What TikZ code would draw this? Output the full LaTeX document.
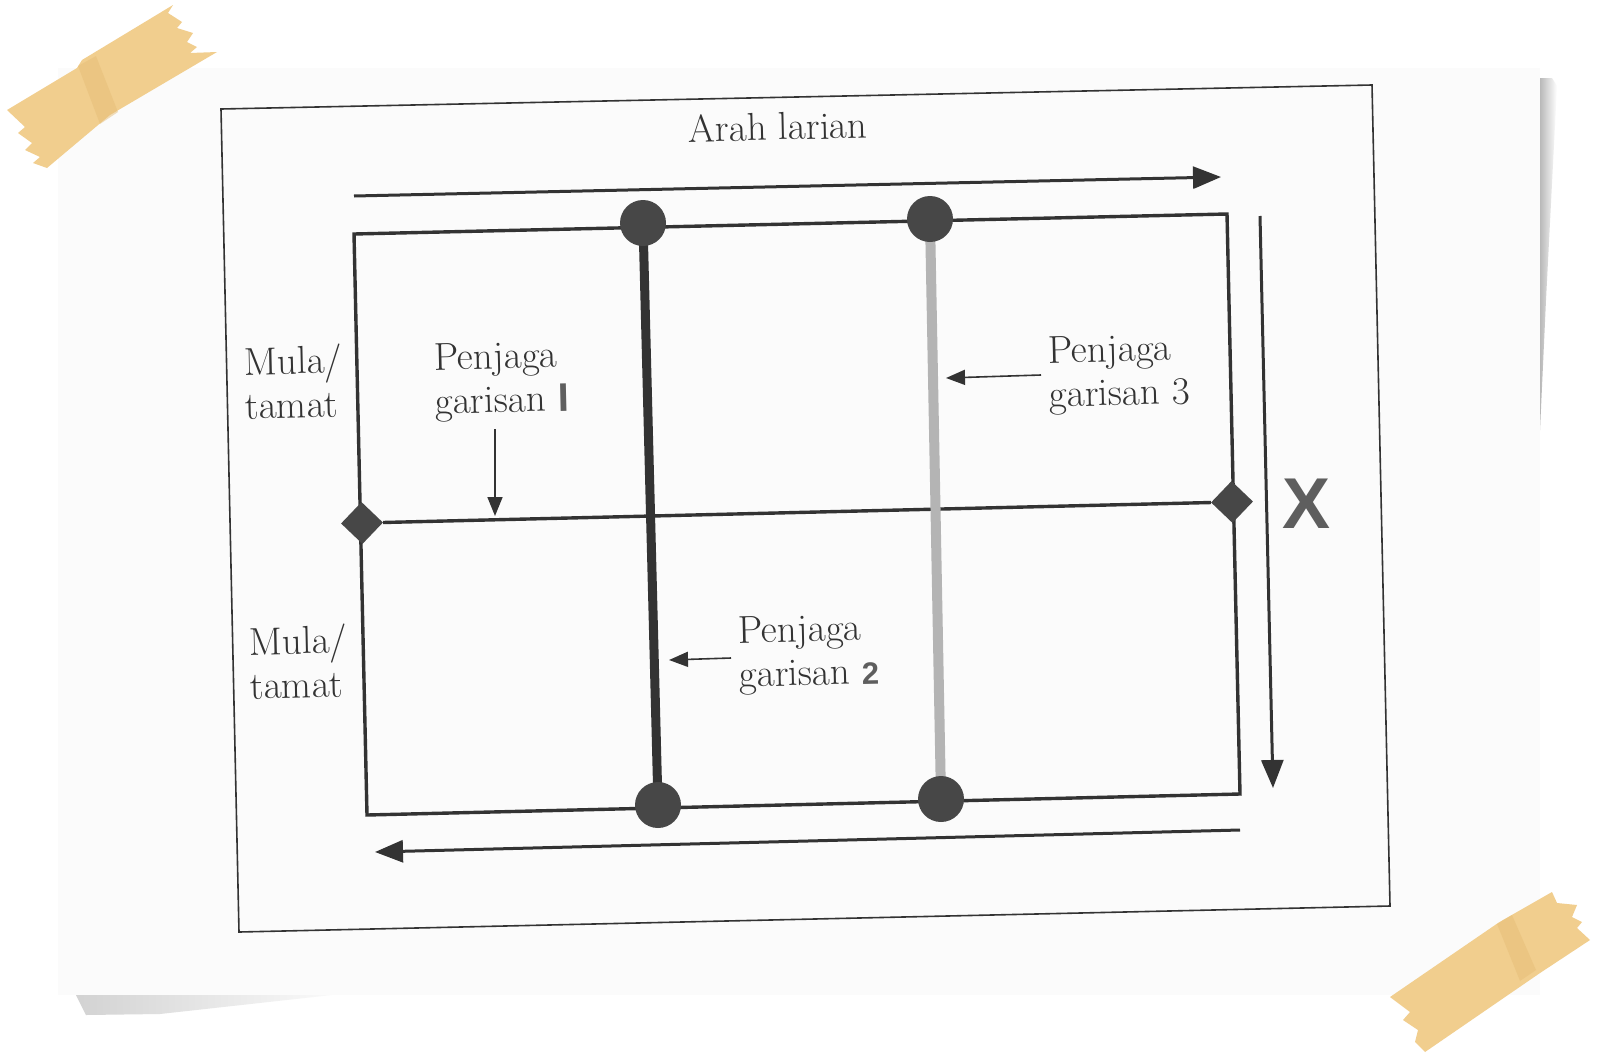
\documentclass[tikz,border=0pt]{standalone}
\usepackage{fontspec}
\newfontfamily\numfont{Liberation Sans}
\usetikzlibrary{arrows.meta,shapes.geometric}

\definecolor{ink}{HTML}{333333}
\definecolor{dot}{HTML}{474747}
\definecolor{pale}{HTML}{B4B4B4}
\definecolor{tape}{HTML}{F1CE8E}
\definecolor{tapedark}{HTML}{E6BE78}
\definecolor{numgray}{HTML}{5E5E5E}

\tikzset{
  court/.style={draw=ink, line width=3.4pt, line join=miter},
  frame/.style={draw=ink, line width=1.6pt},
  guard/.style={circle, fill=dot, minimum size=46pt, inner sep=0pt},
  endmark/.style={diamond, fill=dot, minimum size=42pt, inner sep=0pt, rotate=1.3},
  lbl/.style={font=\fontsize{39}{44}\selectfont, text=ink, align=left, inner sep=0pt, rotate=1.3},
  run/.style={draw=ink, line width=3pt, -{Triangle[length=28pt,width=22pt]}},
  pointer/.style={draw=ink, line width=1.6pt, -{Triangle[length=19pt,width=15pt]}},
  num/.style={text=numgray},
}

\begin{document}
\begin{tikzpicture}[x=1pt, y=-1pt]
  \useasboundingbox (0,0) rectangle (1600,1055);

  % Paper, shadows and tape
  \fill[white] (0,0) rectangle (1600,1055);
  \shade[left color=gray!55, right color=white] (1540,78) -- (1552,78) -- (1557,86) -- (1546,300) -- (1540,430) -- cycle;
  \shade[left color=gray!35, middle color=gray!70, right color=white] (76,995) -- (368,991) -- (160,1014) -- (86,1015) -- cycle;
  \fill[gray!3] (58,68) rectangle (1540,995);
  \fill[tape] (7,110) -- (77,68) -- (82,60) -- (173,5) -- (168,13) -- (182,22) -- (177,28) -- (193,33) -- (187,42)
    -- (197,47) -- (190,53) -- (217,52) -- (110,115) -- (47,168) -- (33,163) -- (40,157) -- (25,150) -- (32,143)
    -- (18,133) -- (25,127) -- cycle;
  \fill[tapedark, opacity=0.5] (78,66) -- (96,56) -- (118,112) -- (100,124) -- cycle;
  \fill[tape] (1390,997) -- (1498,923) -- (1503,920) -- (1552,892) -- (1557,903) -- (1577,905) -- (1572,917)
    -- (1582,922) -- (1577,928) -- (1590,940) -- (1540,973) -- (1425,1052) -- (1415,1042) -- (1418,1030)
    -- (1403,1020) -- (1410,1012) -- cycle;
  \fill[tapedark, opacity=0.5] (1497,924) -- (1512,915) -- (1536,970) -- (1520,981) -- cycle;

  % Frame
  \coordinate (f1) at (221,109);
  \coordinate (f2) at (1372,85);
  \coordinate (f3) at (1390,906);
  \coordinate (f4) at (239,932);
  \draw[frame] (f1) -- (f2) -- (f3) -- (f4) -- cycle;

  % Court
  \coordinate (c1) at (354,234);
  \coordinate (c2) at (1227,214);
  \coordinate (c3) at (1240,794);
  \coordinate (c4) at (367,815);
  \draw[court] (c1) -- (c2) -- (c3) -- (c4) -- cycle;

  % Nodes
  \node[endmark] at (362,523) (dl) {};
  \node[endmark] at (1232,502) (dr) {};
  \draw[court] (dl) -- (dr);

  \coordinate (g1top) at (643,223);
  \coordinate (g1bot) at (658,805);
  \coordinate (g3top) at (930,219);
  \coordinate (g3bot) at (941,799);
  \draw[pale, line width=10pt] (g3top) -- (g3bot);
  \draw[ink, line width=9pt] (g1top) -- (g1bot);
  \node[guard] at (g1top) (g1t) {};
  \node[guard] at (g1bot) (g1b) {};
  \node[guard] at (g3top) (g3t) {};
  \node[guard] at (g3bot) (g3b) {};

  % Labels (base = last line)
  \node[lbl, anchor=base] at (778,140) (arah) {Arah larian};
  \node[lbl, anchor=base west] at (245,419) (mula1) {Mula/\\tamat};
  \node[lbl, anchor=base west] at (250,699) (mula2) {Mula/\\tamat};
  \node[lbl, anchor=base west] at (435,414) (pg1) {Penjaga\\garisan {\numfont\bfseries\fontsize{40}{44}\selectfont\color{numgray}I}};
  \node[lbl, anchor=base west] at (1049,407) (pg3) {Penjaga\\garisan 3};
  \node[lbl, anchor=base west] at (739,687) (pg2) {Penjaga\\garisan {\numfont\bfseries\fontsize{31}{44}\selectfont\color{numgray}2}};
  \node[text=numgray, font=\numfont\bfseries\fontsize{72}{72}\selectfont, inner sep=0pt] at (1306,504) (x) {X};

  % Arrows
  \coordinate (topS) at (354,196);
  \coordinate (topE) at (1221,177);
  \coordinate (botS) at (1240,830);
  \coordinate (botE) at (375,852);
  \coordinate (sideS) at (1260,216);
  \coordinate (sideE) at (1273,788);
  \draw[run] (topS) -- (topE);
  \draw[run] (botS) -- (botE);
  \draw[run] (sideS) -- (sideE);

  \coordinate (p1S) at (495,429);
  \coordinate (p1E) at (495,516);
  \coordinate (p3S) at (1041,375);
  \coordinate (p3E) at (946,378);
  \coordinate (p2S) at (731,658);
  \coordinate (p2E) at (669,660);
  \draw[pointer] (p1S) -- (p1E);
  \draw[pointer] (p3S) -- (p3E);
  \draw[pointer] (p2S) -- (p2E);
\end{tikzpicture}
\end{document}
